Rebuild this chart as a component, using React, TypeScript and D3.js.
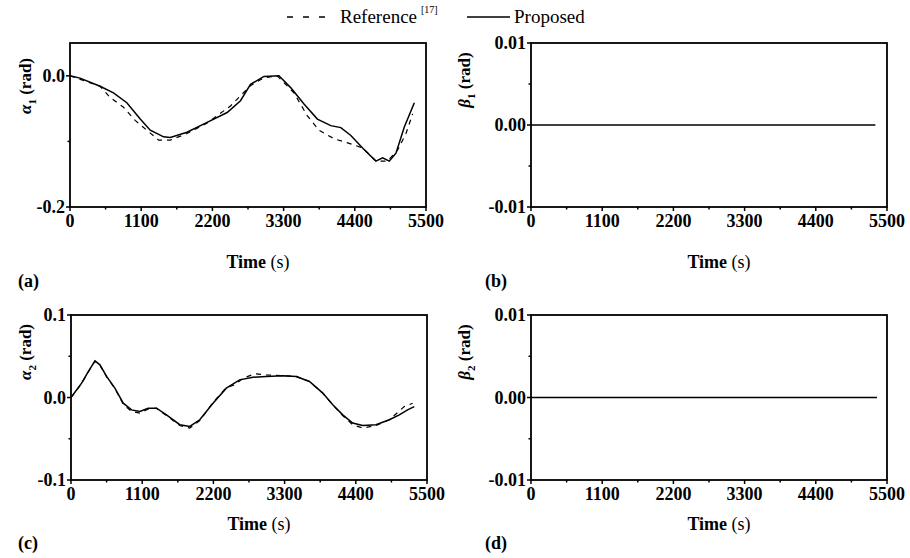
import React from "react";
import * as d3 from "d3";

// ---------- data ----------
const xTicks = [0, 1100, 2200, 3300, 4400, 5500];
const xMinor = [550, 1650, 2750, 3850, 4950];

// (a) alpha1
const a1PropT = [0, 155, 465, 671, 878, 1085, 1240, 1446, 1550, 1808, 2118, 2428, 2634, 2789, 2996, 3228, 3409, 3615, 3822, 4029, 4184, 4339, 4520, 4726, 4830, 4933, 5036, 5165, 5320];
const a1PropV = [0, -0.0035, -0.016, -0.026, -0.041, -0.066, -0.083, -0.093, -0.094, -0.086, -0.071, -0.056, -0.038, -0.013, -0.001, 0, -0.018, -0.043, -0.066, -0.076, -0.079, -0.091, -0.110, -0.130, -0.125, -0.130, -0.118, -0.078, -0.041];
const a1RefT = [0, 465, 620, 826, 1007, 1188, 1369, 1550, 1808, 2118, 2479, 2789, 2996, 3202, 3460, 3667, 3848, 4081, 4313, 4520, 4726, 4907, 5062, 5191, 5294];
const a1RefV = [0, -0.016, -0.033, -0.048, -0.068, -0.083, -0.098, -0.098, -0.088, -0.072, -0.046, -0.015, -0.003, 0, -0.026, -0.061, -0.083, -0.096, -0.103, -0.110, -0.130, -0.130, -0.113, -0.088, -0.058];

// (c) alpha2
const a2PropT = [0, 164, 267, 370, 447, 550, 678, 807, 936, 1064, 1192, 1321, 1475, 1681, 1835, 1989, 2194, 2400, 2605, 2811, 3016, 3273, 3479, 3684, 3890, 4044, 4198, 4352, 4506, 4712, 4918, 5072, 5200, 5303];
const a2PropV = [0, 0.0174, 0.0315, 0.0444, 0.0396, 0.0255, 0.0113, -0.0069, -0.015, -0.017, -0.013, -0.013, -0.021, -0.033, -0.035, -0.027, -0.0069, 0.0113, 0.0214, 0.0246, 0.0255, 0.0263, 0.0255, 0.0194, 0.0053, -0.0089, -0.021, -0.031, -0.034, -0.033, -0.027, -0.021, -0.015, -0.011];
const a2RefT = [0, 164, 267, 370, 447, 550, 678, 807, 936, 1064, 1192, 1321, 1475, 1681, 1835, 1989, 2194, 2400, 2528, 2657, 2837, 3016, 3273, 3479, 3684, 3890, 4044, 4198, 4352, 4506, 4712, 4918, 5149, 5278];
const a2RefV = [0, 0.0170, 0.0310, 0.0440, 0.0390, 0.0250, 0.0110, -0.0080, -0.017, -0.019, -0.014, -0.013, -0.022, -0.034, -0.037, -0.028, -0.0060, 0.0120, 0.0154, 0.0234, 0.0287, 0.0275, 0.0265, 0.0255, 0.0194, 0.0053, -0.0089, -0.022, -0.033, -0.037, -0.034, -0.027, -0.011, -0.007];

// (b) beta1, (d) beta2
const b1T = [0, 5320];
const b1V = [0, 0];
const b2T = [0, 5345];
const b2V = [0, 0];

const FONT = "'Liberation Serif', 'Times New Roman', serif";

type Series = { t: number[]; v: number[]; dashed?: boolean };

type PanelProps = {
  x0: number; x1: number; y0: number; y1: number;
  yDomain: [number, number];
  yTicks: number[]; yLabels: string[]; yMinor: number[];
  series: Series[];
  sym: string; sub: string; letter: string;
  labelX: number; labelY: number;
  letterX: number; letterY: number;
  titleY: number;
};

function Panel(p: PanelProps) {
  const x = d3.scaleLinear().domain([0, 5500]).range([p.x0, p.x1]);
  const y = d3.scaleLinear().domain(p.yDomain).range([p.y1, p.y0]);
  const line = d3.line<[number, number]>().x(d => x(d[0])).y(d => y(d[1]));
  return (
    <g fontFamily={FONT}>
      {p.series.map((s, i) => (
        <path key={i}
          d={line(s.t.map((t, k) => [t, s.v[k]] as [number, number])) || ""}
          fill="none" stroke="#000" strokeWidth={s.dashed ? 1.2 : 1.5}
          strokeDasharray={s.dashed ? "5,5" : undefined} />
      ))}
      <rect x={p.x0} y={p.y0} width={p.x1 - p.x0} height={p.y1 - p.y0}
        fill="none" stroke="#000" strokeWidth={1.8} />
      {xTicks.map(t => (
        <g key={"xt" + t}>
          <line x1={x(t)} x2={x(t)} y1={p.y1} y2={p.y1 + 4} stroke="#000" strokeWidth={1.5} />
          <text x={x(t)} y={p.y1 + 20} textAnchor="middle" fontSize={18} fontWeight="bold">{t}</text>
        </g>
      ))}
      {xMinor.map(t => (
        <line key={"xm" + t} x1={x(t)} x2={x(t)} y1={p.y1} y2={p.y1 + 2.5} stroke="#000" strokeWidth={1.5} />
      ))}
      {p.yTicks.map((t, i) => (
        <g key={"yt" + i}>
          <line x1={p.x0 - 4} x2={p.x0} y1={y(t)} y2={y(t)} stroke="#000" strokeWidth={1.5} />
          <text x={p.x0 - 5} y={y(t) + 6} textAnchor="end" fontSize={18} fontWeight="bold">{p.yLabels[i]}</text>
        </g>
      ))}
      {p.yMinor.map((t, i) => (
        <line key={"ym" + i} x1={p.x0 - 2.5} x2={p.x0} y1={y(t)} y2={y(t)} stroke="#000" strokeWidth={1.5} />
      ))}
      <text transform={`translate(${p.labelX},${p.labelY}) rotate(-90)`} textAnchor="middle" fontSize={17} fontWeight="bold">
        <tspan fontStyle="italic">{p.sym}</tspan>
        <tspan fontSize={11} dy={5}>{p.sub}</tspan>
        <tspan dy={-5}>{" (rad)"}</tspan>
      </text>
      <text x={(p.x0 + p.x1) / 2 + 10} y={p.titleY} textAnchor="middle" fontSize={18}>
        <tspan fontWeight="bold">Time</tspan>
        <tspan>{" (s)"}</tspan>
      </text>
      <text x={p.letterX} y={p.letterY} fontSize={18} fontWeight="bold">{p.letter}</text>
    </g>
  );
}

export default function App() {
  return (
    <svg width={910} height={558} style={{ position: "absolute", left: 0, top: 0, background: "#fff" }}>
      <rect width={910} height={558} fill="#fff" />
      {/* legend */}
      <g fontFamily={FONT}>
        <line x1={287} x2={325} y1={17} y2={17} stroke="#000" strokeWidth={1.3} strokeDasharray="6,10" />
        <text x={340} y={23} fontSize={19}>Reference</text>
        <text x={421} y={13} fontSize={10}>[17]</text>
        <line x1={467} x2={510} y1={17} y2={17} stroke="#000" strokeWidth={1.5} />
        <text x={514} y={23} fontSize={19}>Proposed</text>
      </g>
      <Panel x0={70} x1={426} y0={43} y1={207}
        yDomain={[-0.2, 0.05]} yTicks={[0, -0.2]} yLabels={["0.0", "-0.2"]} yMinor={[-0.1]}
        series={[{ t: a1RefT, v: a1RefV, dashed: true }, { t: a1PropT, v: a1PropV }]}
        sym="α" sub="1" letter="(a)" labelX={31} labelY={86}
        letterX={18} letterY={287} titleY={268} />
      <Panel x0={531} x1={887} y0={43} y1={207}
        yDomain={[-0.01, 0.01]} yTicks={[0.01, 0, -0.01]} yLabels={["0.01", "0.00", "-0.01"]} yMinor={[0.005, -0.005]}
        series={[{ t: b1T, v: b1V }]}
        sym="β" sub="1" letter="(b)" labelX={470} labelY={80}
        letterX={485} letterY={287} titleY={268} />
      <Panel x0={71} x1={427} y0={315} y1={480}
        yDomain={[-0.1, 0.1]} yTicks={[0.1, 0, -0.1]} yLabels={["0.1", "0.0", "-0.1"]} yMinor={[0.05, -0.05]}
        series={[{ t: a2RefT, v: a2RefV, dashed: true }, { t: a2PropT, v: a2PropV }]}
        sym="α" sub="2" letter="(c)" labelX={31} labelY={352}
        letterX={18} letterY={549} titleY={530} />
      <Panel x0={531} x1={887} y0={315} y1={480}
        yDomain={[-0.01, 0.01]} yTicks={[0.01, 0, -0.01]} yLabels={["0.01", "0.00", "-0.01"]} yMinor={[0.005, -0.005]}
        series={[{ t: b2T, v: b2V }]}
        sym="β" sub="2" letter="(d)" labelX={470} labelY={352}
        letterX={485} letterY={549} titleY={530} />
    </svg>
  );
}
